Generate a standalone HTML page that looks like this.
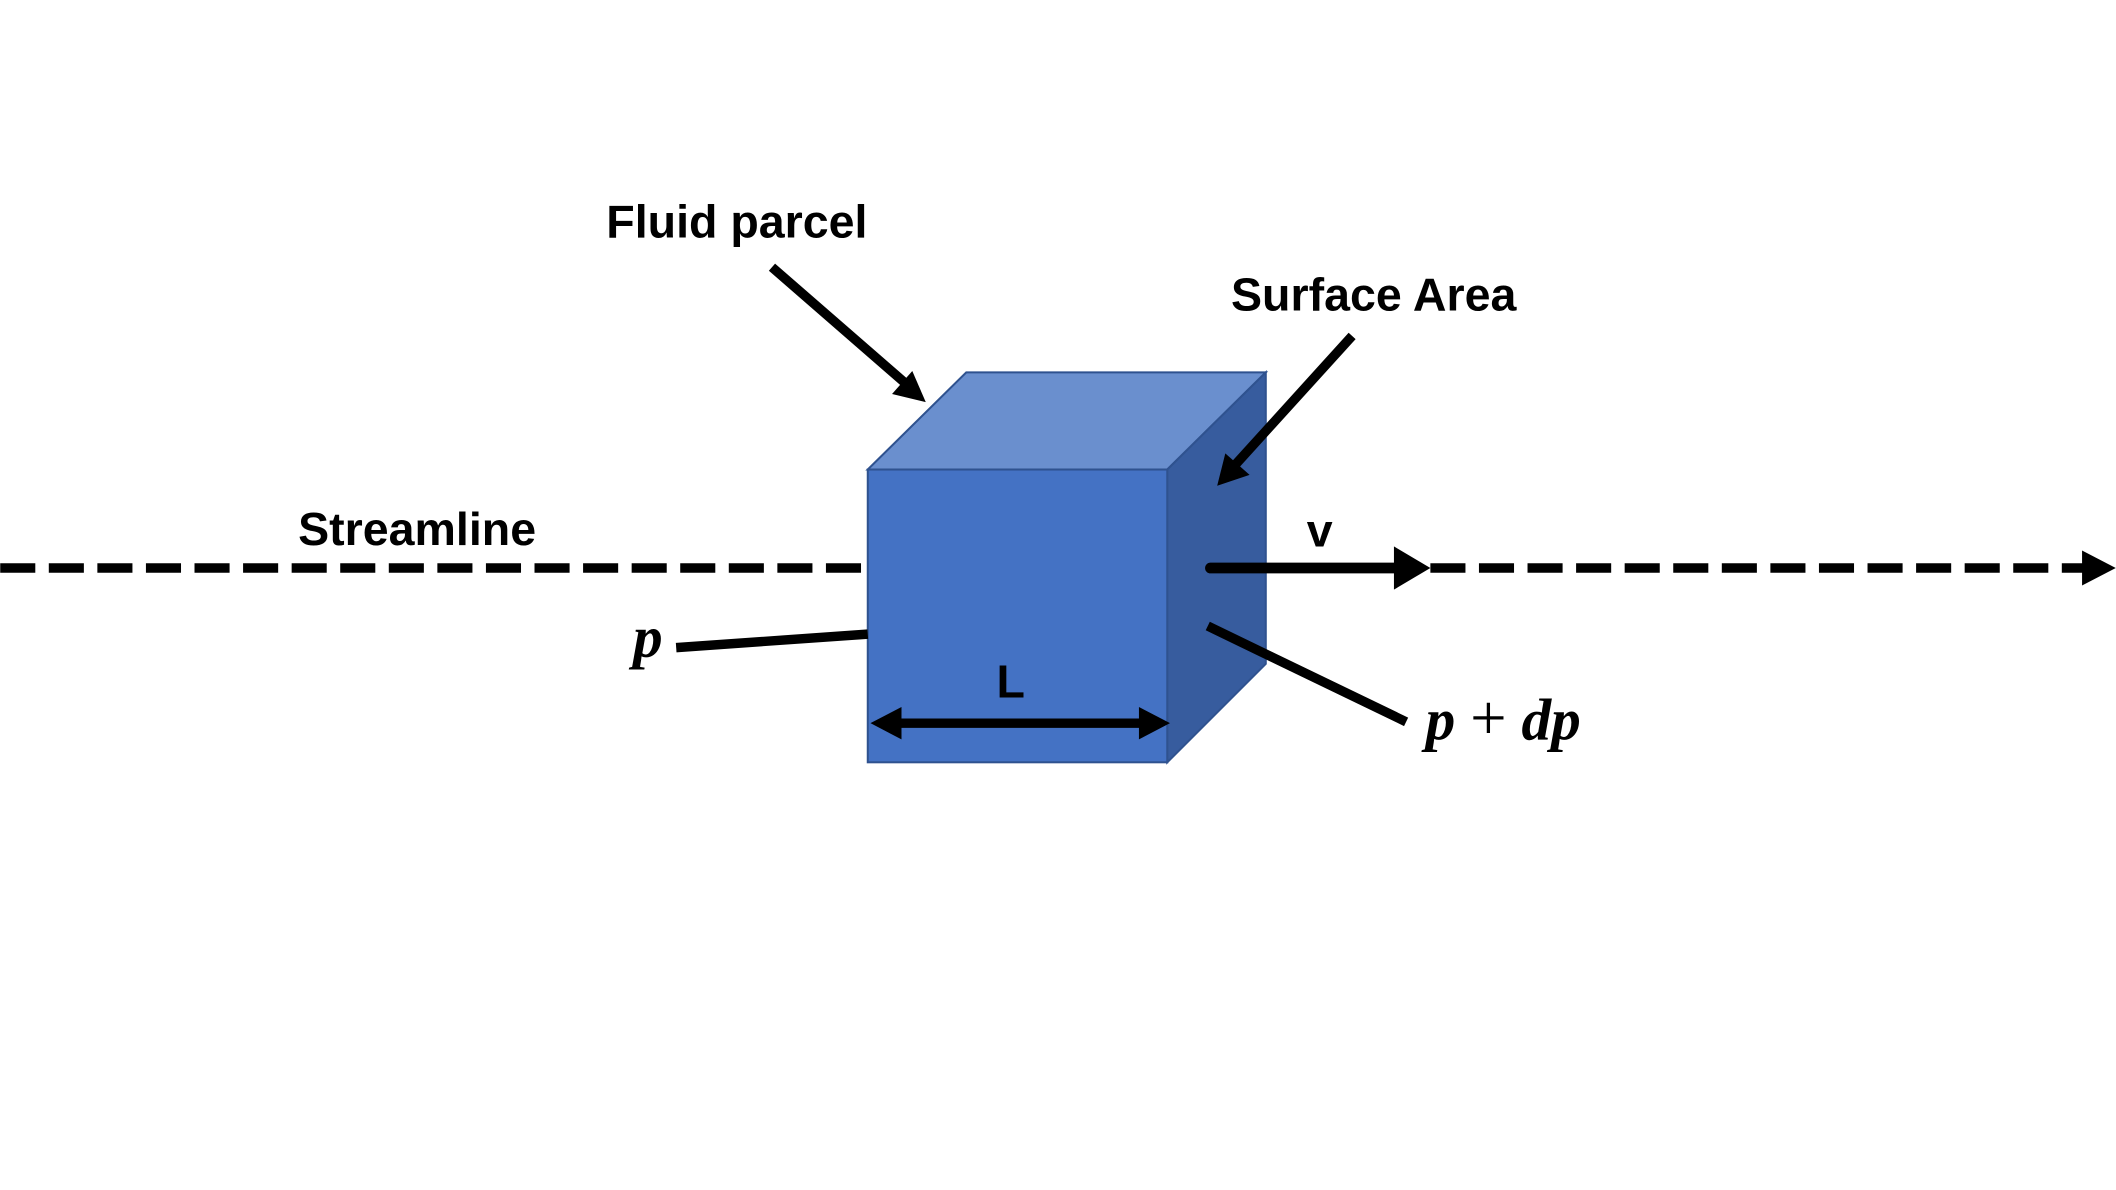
<!DOCTYPE html>
<html><head><meta charset="utf-8"><style>
html,body{margin:0;padding:0;background:#fff;}
svg{display:block;}
.t{font-family:"Liberation Sans",sans-serif;font-weight:bold;font-size:34.5px;fill:#000;}
.m{font-family:"Liberation Serif",serif;font-weight:bold;font-style:italic;font-size:44px;fill:#000;}
</style></head><body>
<svg width="2116" height="1190" viewBox="0 0 1568 882" xmlns="http://www.w3.org/2000/svg">
<rect width="1568" height="882" fill="#fff"/>
<line x1="0" y1="421" x2="643" y2="421" stroke="#000" stroke-width="7" stroke-dasharray="26,10"/>
<line x1="1060" y1="421" x2="1545" y2="421" stroke="#000" stroke-width="7" stroke-dasharray="26,10"/>
<polygon points="1543,408 1568,421 1543,434" fill="#000"/>
<polygon points="643,348 716,276 938,276 865,348" fill="#6A8FCE" stroke="#2F528F" stroke-width="1.5"/>
<polygon points="865,348 938,276 938,492 865,565" fill="#375C9E" stroke="#2F528F" stroke-width="1.5"/>
<rect x="643" y="348" width="222" height="217" fill="#4472C4" stroke="#2F528F" stroke-width="1.5"/>
<line x1="897" y1="421" x2="1036" y2="421" stroke="#000" stroke-width="8" stroke-linecap="round"/>
<polygon points="1033,405 1060,421 1033,437" fill="#000"/>
<text class="t" x="978" y="405" text-anchor="middle">v</text>
<line x1="665" y1="536" x2="846" y2="536" stroke="#000" stroke-width="7"/>
<polygon points="645,536 668,524 668,548" fill="#000"/>
<polygon points="867,536 844,524 844,548" fill="#000"/>
<text class="t" x="749" y="517" text-anchor="middle">L</text>
<text class="t" x="546" y="176" text-anchor="middle">Fluid parcel</text>
<line x1="572" y1="198" x2="672" y2="285" stroke="#000" stroke-width="7"/>
<polygon points="686,298 661,292 676,275" fill="#000"/>
<text class="t" x="1018" y="230" text-anchor="middle">Surface Area</text>
<line x1="1002" y1="249" x2="914" y2="346" stroke="#000" stroke-width="7"/>
<polygon points="902,360 908,336 926,352" fill="#000"/>
<text class="t" x="309" y="404" text-anchor="middle">Streamline</text>
<line x1="501" y1="480" x2="643" y2="470" stroke="#000" stroke-width="7"/>
<text class="m" x="480" y="487" text-anchor="middle">p</text>
<line x1="895" y1="464" x2="1042" y2="535" stroke="#000" stroke-width="7"/>
<text class="m" x="1114" y="548" text-anchor="middle">p <tspan font-style="normal" font-weight="normal" font-size="48">+</tspan> dp</text>
</svg>
</body></html>
